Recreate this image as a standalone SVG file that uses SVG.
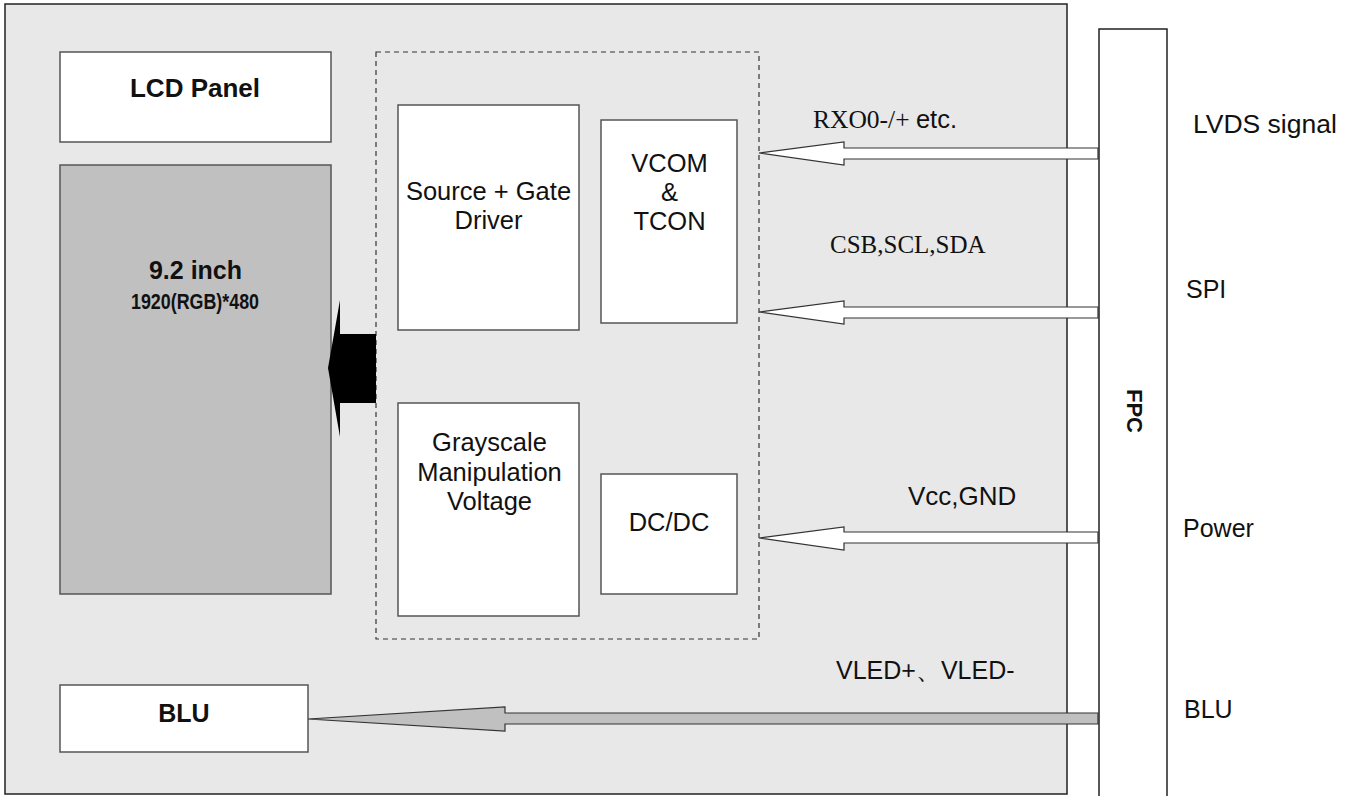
<svg xmlns="http://www.w3.org/2000/svg" width="1363" height="796" viewBox="0 0 1363 796">
<style>
.box{fill:#fff;stroke:#555;stroke-width:1.5}
.sans{font-family:"Liberation Sans",Arial,sans-serif;fill:#111}
.serif{font-family:"Liberation Serif","Times New Roman",serif;fill:#111}
.b{font-weight:bold}
.in{font-size:25.5px}
.arrow{fill:#fff;stroke:#333;stroke-width:1.2}
</style>
<rect width="1363" height="796" fill="#fff"/>
<g id="housing">
<rect x="5" y="4" width="1062" height="790" fill="#e8e8e8" stroke="#222" stroke-width="1.5"/>
</g>
<g id="fpc">
<rect x="1099" y="29" width="68" height="780" fill="#fff" stroke="#222" stroke-width="1.5"/>
<text class="sans b" font-size="22" transform="translate(1127,411) rotate(90)" text-anchor="middle">FPC</text>
</g>
<g id="lcd-panel">
<rect class="box" x="60" y="52" width="271" height="90"/>
<text class="sans b" font-size="26" x="195" y="97" text-anchor="middle">LCD Panel</text>
</g>
<g id="display">
<rect x="60" y="165" width="271" height="429" fill="#c0c0c0" stroke="#555" stroke-width="1.5"/>
<text class="sans b" font-size="25" x="195.5" y="279" text-anchor="middle">9.2 inch</text>
<text class="sans b" font-size="22" x="131" y="309" textLength="128" lengthAdjust="spacingAndGlyphs">1920(RGB)*480</text>
</g>
<g id="driver-ic">
<rect x="376" y="52" width="383" height="587" fill="none" stroke="#333" stroke-width="1.2" stroke-dasharray="5,4"/>
</g>
<g id="source-gate">
<rect class="box" x="398" y="105" width="181" height="225"/>
<text class="sans in" x="488.5" y="200" text-anchor="middle">Source + Gate</text>
<text class="sans in" x="488.5" y="229" text-anchor="middle">Driver</text>
</g>
<g id="vcom-tcon">
<rect class="box" x="601" y="120" width="136" height="203"/>
<text class="sans in" x="669.5" y="172" text-anchor="middle">VCOM</text>
<text class="sans in" x="669.5" y="201" text-anchor="middle">&amp;</text>
<text class="sans in" x="669.5" y="230" text-anchor="middle">TCON</text>
</g>
<g id="grayscale">
<rect class="box" x="398" y="403" width="181" height="213"/>
<text class="sans in" x="489.5" y="451" text-anchor="middle">Grayscale</text>
<text class="sans in" x="489.5" y="481" text-anchor="middle">Manipulation</text>
<text class="sans in" x="489.5" y="510" text-anchor="middle">Voltage</text>
</g>
<g id="dcdc">
<rect class="box" x="601" y="474" width="136" height="120"/>
<text class="sans in" x="669" y="531" text-anchor="middle">DC/DC</text>
</g>
<g id="blu">
<rect class="box" x="60" y="685" width="248" height="67"/>
<text class="sans b" font-size="25" x="184" y="722" text-anchor="middle">BLU</text>
</g>
<g id="connectors">
<polygon points="328,368 340,300 340,334 376,334 376,403 340,403 340,437" fill="#000"/>
<polygon class="arrow" points="759,153 844,142 844,148 1098,148 1098,159 844,159 844,165"/>
<polygon class="arrow" points="759,312 844,301 844,307 1098,307 1098,318 844,318 844,324"/>
<polygon class="arrow" points="759,538 844,527 844,532 1098,532 1098,543 844,543 844,550"/>
<polygon points="308,719 505,707 505,713 1098,713 1098,724 505,724 505,731" fill="#c0c0c0" stroke="#333" stroke-width="1.2"/>
</g>
<g id="labels">
<text x="813" y="128" font-size="25.5"><tspan class="serif">RXO0-/+ </tspan><tspan class="sans">etc.</tspan></text>
<text class="serif" x="830" y="253" font-size="25">CSB,SCL,SDA</text>
<text class="sans" x="908" y="505" font-size="26">Vcc,GND</text>
<text class="sans" x="836" y="679" font-size="25" font-family="'Liberation Sans','Noto Sans CJK SC',sans-serif">VLED+、VLED-</text>
<text class="sans" x="1193" y="133" font-size="26.5">LVDS signal</text>
<text class="sans" x="1186" y="298" font-size="25">SPI</text>
<text class="sans" x="1183" y="537" font-size="25">Power</text>
<text class="sans" x="1184" y="718" font-size="25">BLU</text>
</g>
</svg>
